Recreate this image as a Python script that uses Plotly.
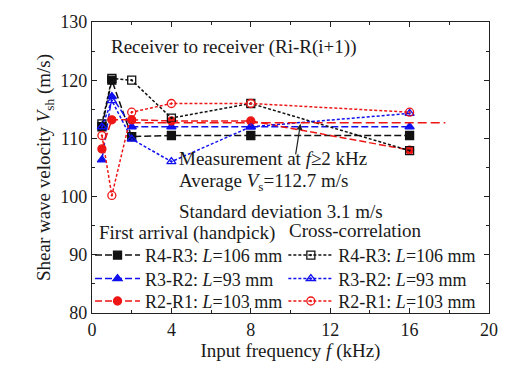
import plotly.graph_objects as go

freq = [0.5, 1, 2, 4, 8, 16]
fa_r43 = [112.0, 120.0, 110.3, 110.5, 110.5, 110.5]
fa_r32 = [106.3, 117.2, 112.0, 112.0, 112.0, 112.0]
fa_r21 = [108.2, 113.2, 113.2, 113.0, 113.0, 108.0]
cc_r43 = [112.5, 120.3, 120.0, 113.5, 116.0, 107.9]
cc_r32 = [112.0, 116.5, 109.9, 106.0, 112.0, 114.3]
cc_r21 = [110.5, 100.2, 114.5, 116.0, 116.0, 114.5]
avg_f = [2, 17.8]
avg_v = [112.7, 112.7]

FONT = "Liberation Serif"
TXT = "#1a1a1a"
BLACK, BLUE, RED = "#111111", "#1010ee", "#ee1515"
fig = go.Figure()

def add(y, name, color, sym, dash, legend):
    fig.add_trace(go.Scatter(
        x=freq, y=y, name=name, mode="lines+markers", legend=legend,
        line=dict(color=color, width=1.5, dash=dash),
        marker=dict(symbol=sym, size=8, color=color,
                    line=dict(color=color, width=1.3))))

LD = "7px,3px"
SD = "3px,2px"
add(fa_r43, "R4-R3: <i>L</i>=106 mm", BLACK, "square", LD, "legend")
add(fa_r32, "R3-R2: <i>L</i>=93 mm", BLUE, "triangle-up", LD, "legend2")
add(fa_r21, "R2-R1: <i>L</i>=103 mm", RED, "circle", LD, "legend3")
add(cc_r43, "R4-R3: <i>L</i>=106 mm", BLACK, "square-open-dot", SD, "legend4")
add(cc_r32, "R3-R2: <i>L</i>=93 mm", BLUE, "triangle-up-open-dot", SD, "legend5")
add(cc_r21, "R2-R1: <i>L</i>=103 mm", RED, "circle-open-dot", SD, "legend6")
fig.add_trace(go.Scatter(x=avg_f, y=avg_v, mode="lines", showlegend=False,
                         line=dict(color=RED, width=1.5, dash="9px,4px")))

axis_common = dict(showgrid=False, zeroline=False, showline=True, linecolor="#222",
                   linewidth=1.4, mirror="ticks", ticks="inside", ticklen=5,
                   tickcolor="#222", tickfont=dict(family=FONT, size=18, color=TXT),
                   minor=dict(ticks="inside", ticklen=3, tickcolor="#222"))
fig.update_xaxes(range=[0, 20], tick0=0, dtick=4, minor_dtick=2,
                 title=dict(text="Input frequency <i>f</i> (kHz)", standoff=3,
                            font=dict(family=FONT, size=19, color=TXT)), **axis_common)
fig.update_yaxes(range=[80, 130], tick0=80, dtick=10, minor_dtick=5,
                 title=dict(text="Shear wave velocity <i>V</i><sub>sh</sub> (m/s)", standoff=4,
                            font=dict(family=FONT, size=19, color=TXT)), **axis_common)

ann_font = dict(family=FONT, size=19, color=TXT)
def note(x, y, text):
    fig.add_annotation(x=x, y=y, xref="paper", yref="paper", xanchor="left", yanchor="middle",
                       text=text, showarrow=False, font=ann_font)
note(0.042, 0.913, "Receiver to receiver (Ri-R(i+1))")
note(0.213, 0.530, "Measurement at <i>f</i>≥2 kHz")
note(0.213, 0.45, "Average <i>V</i><sub>s</sub>=112.7 m/s")
note(0.213, 0.349, "Standard deviation 3.1 m/s")
note(0.012, 0.275, "First arrival (handpick)")
note(0.49, 0.282, "Cross-correlation")
fig.add_annotation(x=10.5, y=112.5, xref="x", yref="y", ax=-5, ay=32, text="",
                   showarrow=True, arrowhead=2, arrowsize=1, arrowwidth=1.2, arrowcolor="#222")

leg_common = dict(bgcolor="rgba(0,0,0,0)", font=dict(family=FONT, size=18, color=TXT),
                  itemwidth=45, tracegroupgap=0, yanchor="middle", xanchor="left")
row_y = [(314 - 255) / 298, (314 - 279) / 298, (314 - 302) / 298]
fig.update_layout(
    legend=dict(x=-0.005, y=row_y[0], **leg_common),
    legend2=dict(x=-0.005, y=row_y[1], **leg_common),
    legend3=dict(x=-0.005, y=row_y[2], **leg_common),
    legend4=dict(x=0.482, y=row_y[0], **leg_common),
    legend5=dict(x=0.482, y=row_y[1], **leg_common),
    legend6=dict(x=0.482, y=row_y[2], **leg_common),
)

fig.update_layout(width=510, height=368, margin=dict(l=92, r=14, t=16, b=54),
                  plot_bgcolor="white", paper_bgcolor="white",
                  font=dict(family=FONT, size=19, color=TXT))
fig.write_html("out.html")
